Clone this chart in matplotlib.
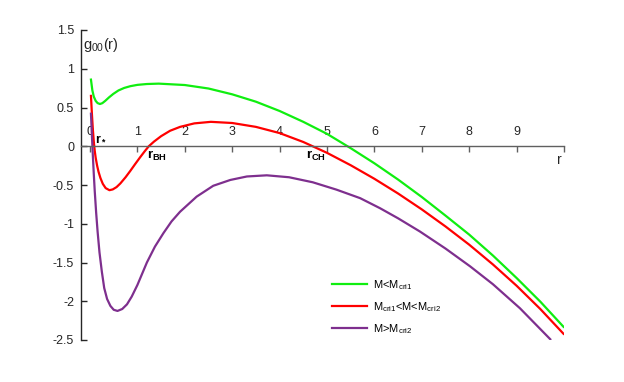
import matplotlib
matplotlib.use("Agg")
import matplotlib.pyplot as plt

plt.rcParams['font.family'] = ['Liberation Sans', 'DejaVu Sans']
plt.rcParams['mathtext.fontset'] = 'custom'
plt.rcParams['mathtext.rm'] = 'Liberation Sans'
plt.rcParams['mathtext.it'] = 'Liberation Sans:italic'
plt.rcParams['mathtext.bf'] = 'Liberation Sans:bold'
plt.rcParams['axes.unicode_minus'] = False

# ---- data ----
green_r = [0.02, 0.05, 0.08, 0.12, 0.16, 0.21, 0.26, 0.32, 0.40, 0.49, 0.6, 0.72, 0.85, 1.0, 1.2, 1.45,
           2.0, 2.5, 3.0, 3.5, 4.0, 4.5, 5.0, 5.5, 6.0, 6.5, 7.0, 7.5, 8.0, 8.5, 9.0, 9.5, 9.99]
green_g = [0.86, 0.72, 0.64, 0.585, 0.557, 0.545, 0.556, 0.585, 0.63, 0.675, 0.72, 0.752, 0.775, 0.792, 0.803, 0.808,
           0.79, 0.745, 0.67, 0.575, 0.455, 0.315, 0.16, -0.025, -0.22, -0.43, -0.655, -0.895, -1.14, -1.41, -1.70, -2.005, -2.33]

red_r = [0.02, 0.04, 0.06, 0.08, 0.10, 0.12, 0.15, 0.18, 0.22, 0.27, 0.33, 0.41, 0.48, 0.56, 0.64, 0.75, 0.85,
         0.95, 1.06, 1.15, 1.24, 1.35, 1.5, 1.69, 1.9, 2.2, 2.55, 3.0, 3.5, 4.0, 4.5, 5.0, 5.5, 6.0, 6.5, 7.0,
         7.5, 8.0, 8.5, 9.0, 9.5, 9.99]
red_g = [0.65, 0.42, 0.22, 0.06, -0.06, -0.15, -0.25, -0.33, -0.41, -0.485, -0.54, -0.567, -0.557, -0.527, -0.48, -0.40, -0.318,
         -0.232, -0.14, -0.068, 0.0, 0.06, 0.13, 0.20, 0.25, 0.295, 0.315, 0.30, 0.25, 0.17, 0.055, -0.085, -0.245, -0.42, -0.61, -0.815,
         -1.035, -1.27, -1.525, -1.80, -2.10, -2.42]

purple_r = [0.02, 0.04, 0.06, 0.08, 0.10, 0.13, 0.16, 0.20, 0.25, 0.30, 0.36, 0.43, 0.50, 0.58, 0.68, 0.78, 0.88,
            1.0, 1.1, 1.2, 1.37, 1.55, 1.72, 1.9, 2.25, 2.6, 2.96, 3.31, 3.73, 4.2, 4.7, 5.2, 5.7, 6.12, 6.5, 6.96,
            7.5, 8.02, 8.5, 9.07, 9.71]
purple_g = [0.42, 0.14, -0.12, -0.36, -0.58, -0.86, -1.10, -1.37, -1.62, -1.83, -1.97, -2.06, -2.11, -2.125, -2.10, -2.04, -1.94,
            -1.79, -1.645, -1.50, -1.295, -1.12, -0.97, -0.845, -0.65, -0.51, -0.435, -0.39, -0.375, -0.40, -0.465, -0.56, -0.67, -0.80, -0.93, -1.10,
            -1.32, -1.55, -1.78, -2.09, -2.49]

x_ticks = [0, 1, 2, 3, 4, 5, 6, 7, 8, 9, 10]
x_tick_labels = ['0', '1', '2', '3', '4', '5', '6', '7', '8', '9', '']
y_ticks = [-2.5, -2, -1.5, -1, -0.5, 0, 0.5, 1, 1.5]
y_tick_labels = ['-2.5', '-2', '-1.5', '-1', '-0.5', '0', '0.5', '1', '1.5']

labels = ['M<M$_{\\mathregular{cri1}}$',
          'M$_{\\mathregular{cri1}}$<M<M$_{\\mathregular{cri2}}$',
          'M>M$_{\\mathregular{cri2}}$']
colors = ['#10ee10', '#ff0000', '#7e2f8e']

fig = plt.figure(figsize=(6.24, 3.82), dpi=100)
ax = fig.add_axes([81/624, 1 - 340/382, (564 - 81)/624, (340 - 30)/382])

for r, g, c, lab in zip([green_r, red_r, purple_r], [green_g, red_g, purple_g], colors, labels):
    ax.plot(r, g, color=c, lw=1.6, label=lab, solid_joinstyle='round')

ax.set_xlim(-0.19, 10)
ax.set_ylim(-2.5, 1.5)

ax.spines['right'].set_visible(False)
ax.spines['bottom'].set_visible(False)
ax.spines['top'].set_position(('data', 0))
ax.spines['top'].set_color('#606060')
ax.spines['left'].set_color('#262626')
ax.spines['top'].set_linewidth(1.0)
ax.spines['left'].set_linewidth(1.0)

ax.xaxis.tick_top()
ax.set_xticks(x_ticks)
ax.set_xticklabels(x_tick_labels)
ax.tick_params(axis='x', direction='in', length=4, width=1, color='#606060',
               labelsize=9, labelcolor='#262626', pad=6)
ax.set_yticks(y_ticks)
ax.set_yticklabels(y_tick_labels)
ax.tick_params(axis='y', direction='in', length=4, width=1, color='#262626',
               labelsize=9, labelcolor='#262626', pad=5)

ax.text(-0.15, 1.31, 'g$_{\\mathregular{00}}$(r)', fontsize=10.5, color='#262626', va='center', ha='left')
ax.text(0.1, 0.03, '$\\mathbf{r_*}$', fontsize=9, color='black', va='bottom', ha='left')
ax.text(1.2, -0.03, '$\\mathbf{r_{BH}}$', fontsize=9.5, color='black', va='top', ha='left')
ax.text(4.56, -0.03, '$\\mathbf{r_{CH}}$', fontsize=9.5, color='black', va='top', ha='left')
ax.text(9.85, -0.18, 'r', fontsize=10, color='#262626', va='center', ha='left')

ax.legend(loc='upper left', bbox_to_anchor=(0.52, 0.2), frameon=False, fontsize=8,
          handlelength=3.1, handletextpad=0.55, labelspacing=0.75, borderpad=0, borderaxespad=0)

fig.savefig('out.png', dpi=100)
